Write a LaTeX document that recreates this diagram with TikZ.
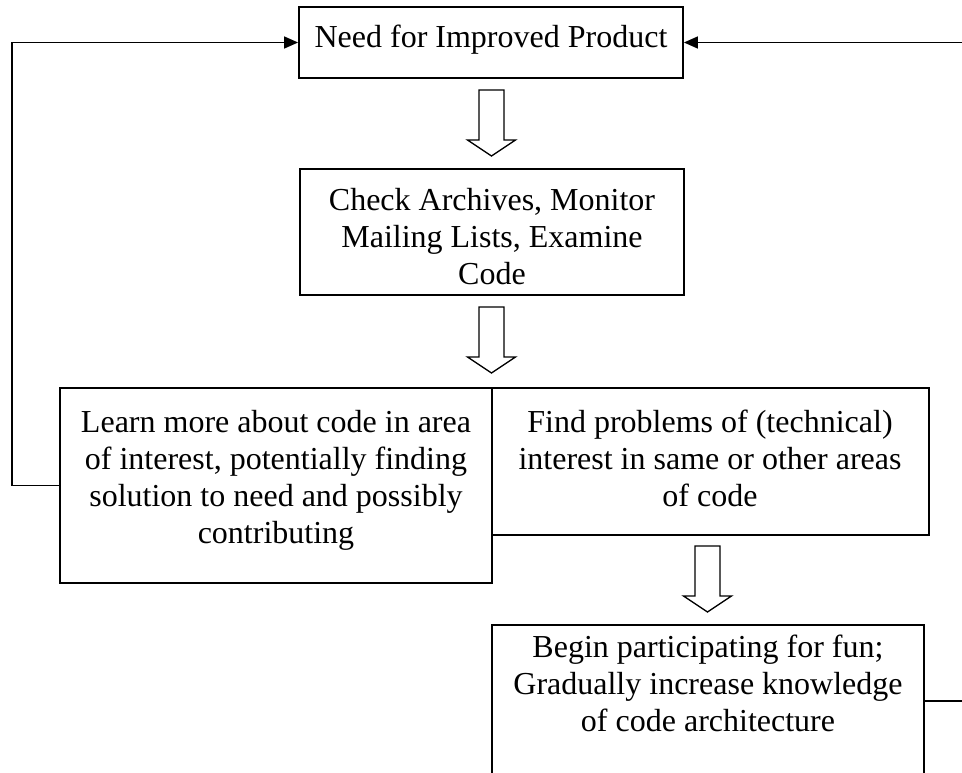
\documentclass[tikz,border=0pt]{standalone}
\usepackage{fontspec}
\setmainfont{Liberation Serif}
\usetikzlibrary{arrows.meta}
\begin{document}
\begin{tikzpicture}[x=1pt,y=-1pt,
  box/.style 2 args={draw, line width=1.8pt, minimum width=#1, minimum height=#2, inner sep=0pt, fill=white},
  txt/.style={font=\fontsize{32}{37}\selectfont, align=center, inner sep=0pt, anchor=north},
  conn/.style={draw, line width=1.4pt},
  tip/.style={-{Triangle[length=14pt,width=12pt]}},
  barrow/.style={draw, line width=1.3pt, fill=white, line join=miter}]
\useasboundingbox (0,0) rectangle (962,773);
% boxes
\node[box={384pt}{71pt}]  (top)   at (491,42.5) {};
\node[box={384pt}{126pt}] (check) at (492,232) {};
\node[box={437pt}{147pt}] (find)  at (710.5,461.5) {};
\node[box={432pt}{195pt}] (learn) at (276,485.5) {};
\node[box={432pt}{152pt}] (begin) at (708,701) {};
% texts
\node[txt] (ttop)   at (491,25)  {Need for Improved Product};
\node[txt] (tcheck) at (492,188) {Check Archives, Monitor\\Mailing Lists, Examine\\Code};
\node[txt] (tlearn) at (276,410) {Learn more about code in area\\of interest, potentially finding\\solution to need and possibly\\contributing};
\node[txt] (tfind)  at (710,410) {Find problems of (technical)\\interest in same or other areas\\of code};
\node[txt] (tbegin) at (708,635) {Begin participating for fun;\\Gradually increase knowledge\\of code architecture};
% block arrows
\newcommand\blockarrow[2]{%
  \draw[barrow] (#1-12.5,#2) -- (#1+12.5,#2) -- (#1+12.5,#2+50) -- (#1+24,#2+50)
     -- (#1,#2+66) -- (#1-24,#2+50) -- (#1-12.5,#2+50) -- cycle;}
\blockarrow{491.5}{90}
\blockarrow{491.5}{307}
\blockarrow{707.5}{546}
% feedback connectors
\coordinate (lx) at (12,0);
\coordinate (rx) at (963.5,0);
\draw[conn,tip] (learn.west) -- (learn.west -| lx) |- (top.west);
\draw[conn,tip] (begin.east) -- (begin.east -| rx) |- (top.east);
\end{tikzpicture}
\end{document}
